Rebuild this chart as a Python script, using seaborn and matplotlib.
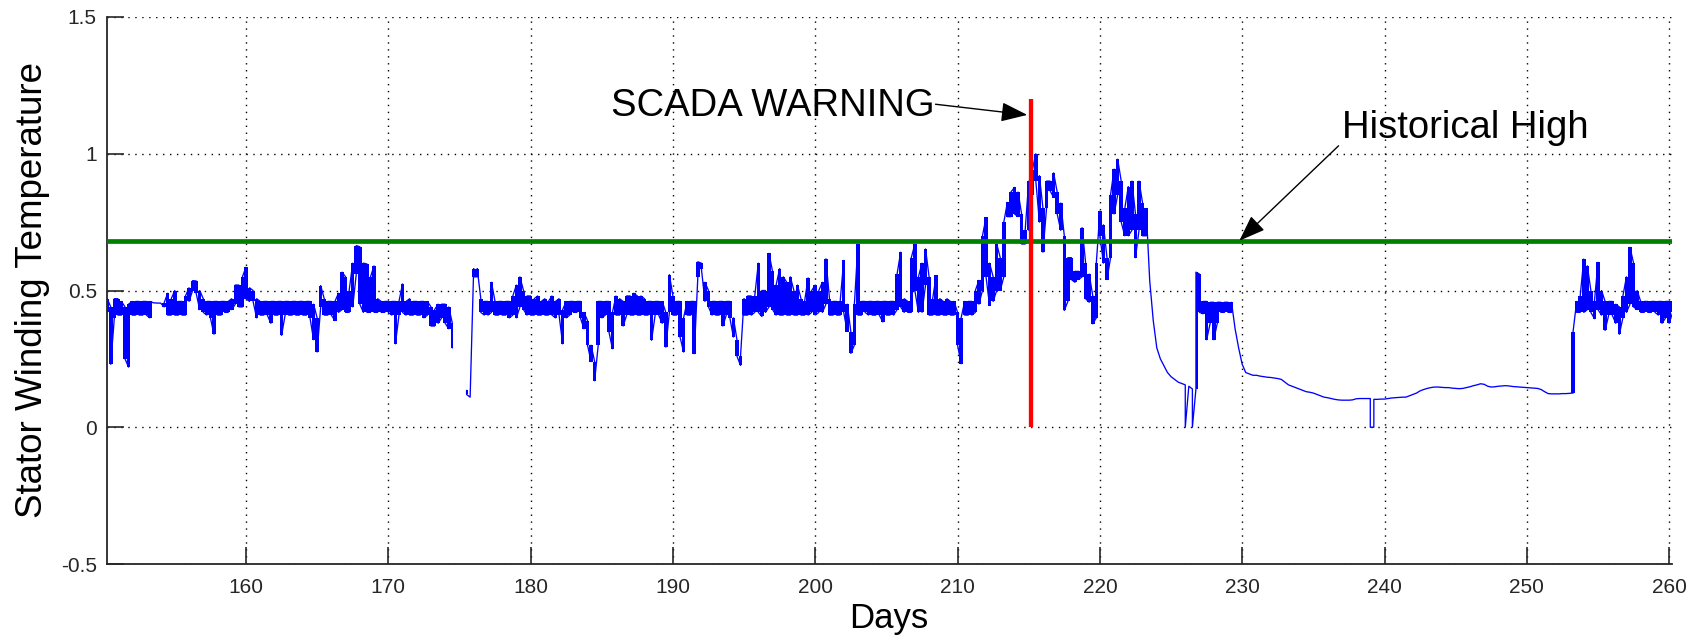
import numpy as np
import pandas as pd
import matplotlib
matplotlib.use("Agg")
import matplotlib.pyplot as plt
import seaborn as sns

nan = np.nan

# Stator winding temperature, upper / lower envelope of the dense trace,
# one row per day (samples every 0.25 day starting at day 150.25)
temp_hi = [
    .47, .44, .47,              # 150
    .47, .46, .44, .45,         # 151
    .46, .46, .46, .46,         # 152
    .46, .46, .455, .454,       # 153
    .454, .455, .49, .47,       # 154
    .50, .46, .46, .48,         # 155
    .51, .536, .535, .50,       # 156
    .47, .46, .46, .46,         # 157
    .46, .46, .46, .46,         # 158
    .47, .52, .52, .55,         # 159
    .585, .51, .50, .47,        # 160
    .46, .46, .46, .46,         # 161
    .46, .46, .46, .46,         # 162
    .46, .46, .46, .46,         # 163
    .46, .46, .46, .45,         # 164
    .40, .518, .47, .46,        # 165
    .46, .46, .49, .567,        # 166
    .55, .50, .60, .664,        # 167
    .66, .60, .597, .55,        # 168
    .59, .47, .46, .46,         # 169
    .46, .46, .46, .46,         # 170
    .524, .46, .47, .46,        # 171
    .46, .46, .46, .46,         # 172
    .44, .43, .45, .45,         # 173
    .45, .44, .38, nan,         # 174
    nan, nan, .135, .11,        # 175
    .58, .58, .47, .46,         # 176
    .46, .53, .46, .46,         # 177
    .46, .46, .46, .48,         # 178
    .52, .55, .50, .48,         # 179
    .48, .47, .48, .46,         # 180
    .47, .46, .48, .46,         # 181
    .47, .43, .46, .46,         # 182
    .46, .46, .46, .42,         # 183
    .39, .30, .24, .46,         # 184
    .46, .46, .46, .42,         # 185
    .48, .47, .46, .48,         # 186
    .48, .49, .48, .48,         # 187
    .47, .46, .46, .46,         # 188
    .46, .46, .42, .558,        # 189
    .48, .46, .46, .40,         # 190
    .46, .46, .46, .605,        # 191
    .60, .53, .50, .46,         # 192
    .46, .46, .46, .46,         # 193
    .46, .40, .32, .26,         # 194
    .47, .48, .48, .48,         # 195
    .60, .50, .50, .636,        # 196
    .57, .52, .58, .55,         # 197
    .53, .55, .50, .52,         # 198
    .47, .46, .546, .50,        # 199
    .52, .50, .53, .616,        # 200
    .47, .46, .46, .46,         # 201
    .61, .45, .35, .45,         # 202
    .67, .46, .46, .46,         # 203
    .46, .46, .46, .46,         # 204
    .46, .46, .46, .56,         # 205
    .64, .47, .46, .62,         # 206
    .67, .55, .60, .652,        # 207
    .55, .47, .555, .47,        # 208
    .46, .47, .46, .46,         # 209
    .42, .40, .46, .46,         # 210
    .46, .50, .537, .70,        # 211
    .767, .60, .55, .67,        # 212
    .62, .75, .822, .86,        # 213
    .877, .86, .78, .72,        # 214
    .90, .94, 1.0, .92,         # 215
    .80, .90, .90, .93,         # 216
    .86, .82, .70, .62,         # 217
    .62, .57, .57, .73,         # 218
    .60, .56, .48, .60,         # 219
    .79, .74, .62, .85,         # 220
    .944, .98, .90, .80,        # 221
    .88, .90, .78, .90,         # 222
    .82, .80, .537, .39,        # 223
    .29, .25, .225, .20,        # 224
    .185, .175, .165, .16,      # 225
    .155, .15, .14, .567,       # 226
    .56, .46, .46, .457,        # 227
    .457, .457, .457, .457,     # 228
    .457, .457, .36, .29,       # 229
    .23, .20, .195, .19,        # 230
    .19, .187, .185, .183,      # 231
    .182, .18, .178, .175,      # 232
    .165, .155, .15, .145,      # 233
    .14, .135, .13, .128,       # 234
    .125, .12, .115, .11,       # 235
    .108, .105, .102, .10,      # 236
    .099, .099, .099, .10,      # 237
    .104, .105, .105, .105,     # 238
    .105, .102, .102, .103,     # 239
    .103, .105, .107, .108,     # 240
    .109, .11, .11, .115,       # 241
    .12, .125, .133, .138,      # 242
    .142, .145, .147, .147,     # 243
    .146, .145, .145, .143,     # 244
    .142, .141, .142, .145,     # 245
    .148, .152, .155, .159,     # 246
    .157, .15, .147, .148,      # 247
    .15, .151, .152, .151,      # 248
    .149, .148, .147, .146,     # 249
    .145, .144, .143, .142,     # 250
    .138, .13, .123, .122,      # 251
    .122, .122, .123, .123,     # 252
    .124, .35, .46, .48,        # 253
    .615, .59, .50, .46,        # 254
    .603, .50, .46, .46,        # 255
    .46, .45, .44, .48,         # 256
    .55, .658, .60, .50,        # 257
    .46, .46, .46, .46,         # 258
    .46, .46, .46, .46,         # 259
    .46, .46,                   # 260
]

temp_lo = [
    .42, .23, .40,              # 150
    .41, .41, .25, .22,         # 151
    .41, .41, .41, .41,         # 152
    .41, .40, .455, .454,       # 153
    .454, .44, .41, .41,        # 154
    .41, .41, .41, .41,         # 155
    .46, .50, .49, .43,         # 156
    .42, .41, .40, .34,         # 157
    .41, .41, .42, .42,         # 158
    .43, .45, .44, .44,         # 159
    .47, .46, .46, .40,         # 160
    .41, .41, .41, .38,         # 161
    .41, .41, .336, .41,        # 162
    .41, .41, .41, .41,         # 163
    .41, .41, .40, .32,         # 164
    .275, .44, .41, .41,        # 165
    .41, .39, .42, .43,         # 166
    .42, .42, .44, .56,         # 167
    .45, .42, .42, .42,         # 168
    .42, .42, .42, .42,         # 169
    .42, .41, .305, .41,        # 170
    .42, .41, .41, .41,         # 171
    .41, .41, .40, .41,         # 172
    .37, .37, .38, .40,         # 173
    .38, .36, .29, nan,         # 174
    nan, nan, .12, .11,         # 175
    .55, .55, .42, .41,         # 176
    .41, .42, .41, .41,         # 177
    .41, .41, .40, .41,         # 178
    .40, .44, .43, .41,         # 179
    .41, .41, .41, .41,         # 180
    .41, .41, .41, .40,         # 181
    .41, .305, .40, .41,        # 182
    .42, .42, .40, .36,         # 183
    .30, .24, .17, .30,         # 184
    .40, .41, .35, .287,        # 185
    .41, .41, .37, .41,         # 186
    .41, .41, .41, .41,         # 187
    .41, .41, .318, .41,        # 188
    .41, .38, .293, .42,        # 189
    .41, .41, .33, .275,        # 190
    .41, .41, .269, .55,        # 191
    .58, .46, .44, .41,         # 192
    .41, .41, .37, .41,         # 193
    .40, .33, .26, .226,        # 194
    .41, .41, .41, .42,         # 195
    .42, .405, .42, .44,        # 196
    .43, .41, .41, .41,         # 197
    .41, .41, .41, .41,         # 198
    .41, .41, .41, .42,         # 199
    .41, .42, .42, .45,         # 200
    .41, .41, .41, .41,         # 201
    .42, .35, .27, .30,         # 202
    .41, .41, .42, .41,         # 203
    .41, .41, .41, .385,        # 204
    .41, .41, .41, .43,         # 205
    .44, .42, .42, .42,         # 206
    .50, .42, .42, .52,         # 207
    .41, .41, .41, .41,         # 208
    .41, .41, .41, .41,         # 209
    .30, .232, .41, .41,        # 210
    .41, .42, .45, .50,         # 211
    .55, .445, .46, .50,        # 212
    .50, .55, .77, .77,         # 213
    .78, .77, .67, .67,         # 214
    .72, .85, .90, .75,         # 215
    .64, .80, .865, .84,        # 216
    .78, .72, .427, .46,        # 217
    .54, .53, .54, .55,         # 218
    .47, .457, .378, .40,       # 219
    .70, .60, .54, .62,         # 220
    .78, .85, .75, .70,         # 221
    .70, .72, .62, .72,         # 222
    .70, .70, .537, .39,        # 223
    .29, .25, .225, .20,        # 224
    .185, .175, .165, .16,      # 225
    0.0, .15, 0.0, .14,         # 226
    .42, .415, .32, .38,        # 227
    .32, .38, .42, .42,         # 228
    .42, .42, .36, .29,         # 229
    .23, .20, .195, .19,        # 230
    .19, .187, .185, .183,      # 231
    .182, .18, .178, .175,      # 232
    .165, .155, .15, .145,      # 233
    .14, .135, .13, .128,       # 234
    .125, .12, .115, .11,       # 235
    .108, .105, .102, .10,      # 236
    .099, .099, .099, .10,      # 237
    .104, .105, .105, .105,     # 238
    0.0, 0.0, .102, .103,       # 239
    .103, .105, .107, .108,     # 240
    .109, .11, .11, .115,       # 241
    .12, .125, .133, .138,      # 242
    .142, .145, .147, .147,     # 243
    .146, .145, .145, .143,     # 244
    .142, .141, .142, .145,     # 245
    .148, .152, .155, .159,     # 246
    .157, .15, .147, .148,      # 247
    .15, .151, .152, .151,      # 248
    .149, .148, .147, .146,     # 249
    .145, .144, .143, .142,     # 250
    .138, .13, .123, .122,      # 251
    .122, .122, .123, .123,     # 252
    .124, .125, .42, .42,       # 253
    .42, .43, .42, .397,        # 254
    .43, .41, .354, .41,        # 255
    .41, .38, .34, .40,         # 256
    .42, .45, .44, .43,         # 257
    .42, .42, .42, .42,         # 258
    .42, .41, .38, .40,         # 259
    .38, .42,                   # 260
]

first_day = 150.25
day_step = 0.25
days = first_day + day_step * np.arange(len(temp_hi))

historical_high = 0.68
warning_day = 215.14
warning_top = 1.2

x_ticks = [160, 170, 180, 190, 200, 210, 220, 230, 240, 250, 260]
x_tick_labels = [str(t) for t in x_ticks]
y_ticks = [-0.5, 0, 0.5, 1, 1.5]
y_tick_labels = ["-0.5", "0", "0.5", "1", "1.5"]

# Build the drawn trace: each sample is a short stroke between its envelope values
rows = []
seg = 0
for i, (d, h, l) in enumerate(zip(days, temp_hi, temp_lo)):
    if np.isnan(h):
        seg += 1
        continue
    pair = (l, h) if i % 2 == 0 else (h, l)
    for v in pair:
        rows.append((d, v, seg))
df = pd.DataFrame(rows, columns=["day", "temp", "seg"])

sns.set_style("white")
plt.rcParams["font.family"] = ["Liberation Sans", "DejaVu Sans"]

W, H = 1702, 638
fig = plt.figure(figsize=(W / 100, H / 100), dpi=100)
ax_l, ax_r, ax_t, ax_b = 106.5, 1672, 17, 564
ax = fig.add_axes([ax_l / W, 1 - ax_b / H, (ax_r - ax_l) / W, (ax_b - ax_t) / H])

# dense band of the trace (envelope; sensor drop-outs to zero stay thin lines),
# then the trace itself
hi_arr = np.array(temp_hi, dtype=float)
lo_arr = np.array(temp_lo, dtype=float)
valid = ~np.isnan(hi_arr)
band = valid & (np.nan_to_num(lo_arr) > 0)
ax.fill_between(days, np.nan_to_num(lo_arr), np.nan_to_num(hi_arr), where=band,
                step="mid", color="#0000FF", lw=0, zorder=2)
sns.lineplot(data=df, x="day", y="temp", units="seg", estimator=None, sort=False,
             color="#0000FF", lw=0.95, ax=ax, zorder=2)

ax.axhline(historical_high, color="#008000", lw=3.4, zorder=3)
ax.vlines(warning_day, 0, warning_top, color="#FF0000", lw=3.1, zorder=4)

ax.set_xlim(150.2, 260.2)
ax.set_ylim(-0.5, 1.5)
ax.set_xticks(x_ticks)
ax.set_xticklabels(x_tick_labels)
ax.set_yticks(y_ticks)
ax.set_yticklabels(y_tick_labels)

ax.set_axisbelow(True)
ax.grid(True, color="black", linestyle=(0, (1, 4)), lw=1.0)
for s in ["top", "right"]:
    ax.spines[s].set_visible(False)
for s in ["left", "bottom"]:
    ax.spines[s].set_color("#262626")
    ax.spines[s].set_linewidth(1.3)
ax.tick_params(axis="both", direction="in", length=12, width=1.2, color="#262626",
               labelsize=15, labelcolor="#262626", left=True, bottom=True)
ax.tick_params(axis="x", pad=10)
ax.tick_params(axis="y", pad=7)

ax.set_xlabel("Days", fontsize=25, color="black")
ax.xaxis.set_label_coords(0.5, -0.07)
ax.set_ylabel("Stator Winding Temperature", fontsize=26.5, color="black")
ax.yaxis.set_label_coords(-0.036, 0.5)

arrow = dict(arrowstyle="-|>,head_length=0.65,head_width=0.24", color="black",
             lw=1.0, mutation_scale=25, shrinkA=0, shrinkB=0)
ax.text(208.38, 1.139, "SCADA WARNING", ha="right", va="baseline", fontsize=27.5,
        color="black", zorder=6)
ax.annotate("", xy=(214.9, 1.142), xytext=(208.45, 1.181), arrowprops=arrow, zorder=6)
ax.text(237.0, 1.057, "Historical High", ha="left", va="baseline", fontsize=27.5,
        color="black", zorder=6)
ax.annotate("", xy=(229.8, 0.682), xytext=(236.77, 1.029), arrowprops=arrow, zorder=6)

fig.savefig("out.png", dpi=100)
